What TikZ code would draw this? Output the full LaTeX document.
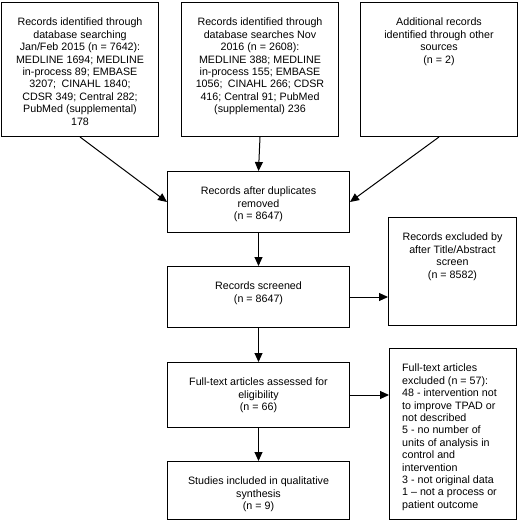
\documentclass[tikz,border=0pt]{standalone}
\usepackage{fontspec}
\setmainfont{Liberation Sans}
\usetikzlibrary{arrows.meta}

\tikzset{
  box/.style={draw, line width=1pt, anchor=north west, inner sep=0pt},
  boxtext/.style={anchor=north, yshift=-16pt, align=center, inner sep=0pt, font=\fontsize{10.7}{12.4}\selectfont},
  sidetext/.style={anchor=north west, yshift=-16pt, xshift=13pt, align=left, inner sep=0pt, font=\fontsize{10.7}{12.4}\selectfont},
  arr/.style={line width=1pt, -{Triangle[length=9pt,width=8pt]}}
}

\begin{document}
\begin{tikzpicture}[x=1pt, y=-1pt]
\useasboundingbox (0,0) rectangle (520,529);

\node[box, minimum width=157pt, minimum height=134pt, label={[boxtext]north:{Records identified through\\database searching\\Jan/Feb 2015 (n = 7642):\\MEDLINE 1694; MEDLINE\\in-process 89; EMBASE\\3207;\enspace CINAHL 1840;\\CDSR 349; Central 282;\\PubMed (supplemental)\\178}}] (search1) at (1,2) {}; %first searches
\node[box, minimum width=157pt, minimum height=134pt, label={[boxtext]north:{Records identified through\\database searches Nov\\2016 (n = 2608):\\MEDLINE 388; MEDLINE\\in-process 155; EMBASE\\1056;\enspace CINAHL 266; CDSR\\416; Central 91; PubMed\\(supplemental) 236}}] (search2) at (181,2) {}; %update searches
\node[box, minimum width=157pt, minimum height=134pt, label={[boxtext]north:{Additional records\\identified through other\\sources\\(n = 2)}}] (other) at (360,2) {}; %other sources

\node[box, minimum width=182pt, minimum height=61pt, label={[boxtext]north:{Records after duplicates\\removed\\(n = 8647)}}] (dedup) at (167,171) {};
\node[box, minimum width=182pt, minimum height=61pt, label={[boxtext]north:{Records screened\\(n = 8647)}}] (screened) at (167,266) {};
\node[box, minimum width=128pt, minimum height=108pt, label={[boxtext]north:{Records excluded by\\after Title/Abstract\\screen\\(n = 8582)}}] (excl1) at (388,217) {}; %title/abstract exclusions
\node[box, minimum width=127pt, minimum height=171pt, label={[sidetext]north west:{Full-text articles\\excluded (n = 57):\\48 - intervention not\\to improve TPAD or\\not described\\5 - no number of\\units of analysis in\\control and\\intervention\\3 - not original data\\1 -- not a process or\\patient outcome}}] (excl2) at (389,348) {}; %full-text exclusions
\node[box, minimum width=182pt, minimum height=65pt, label={[boxtext]north:{Full-text articles assessed for\\eligibility\\(n = 66)}}] (fulltext) at (167,362) {};
\node[box, minimum width=182pt, minimum height=58pt, label={[boxtext]north:{Studies included in qualitative\\synthesis\\(n = 9)}}] (included) at (167,461) {};

\draw[arr] (search1.south) -- (dedup.west);
\draw[arr] (search2.south) -- (dedup.north);
\draw[arr] (other.south) -- (dedup.east);
\draw[arr] (dedup.south) -- (screened.north);
\draw[arr] (screened.east) -- (screened.east -| excl1.west);
\draw[arr] (screened.south) -- (fulltext.north);
\draw[arr] (fulltext.east) -- (fulltext.east -| excl2.west);
\draw[arr] (fulltext.south) -- (included.north);

\end{tikzpicture}
\end{document}
